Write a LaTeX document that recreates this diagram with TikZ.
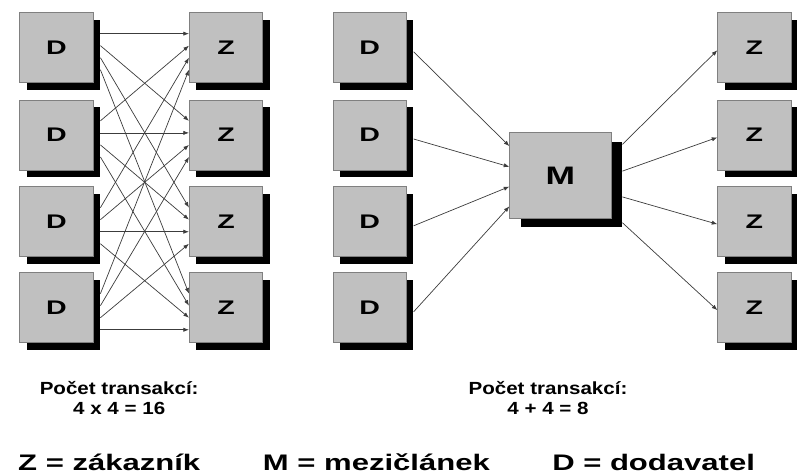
\documentclass[tikz,border=0pt]{standalone}
\usepackage{fontspec}
\setmainfont{Liberation Sans}
\usepackage{tikz}
\usetikzlibrary{arrows.meta, calc, shadows}
\definecolor{boxgray}{RGB}{192,192,192}
\definecolor{edgegray}{RGB}{128,128,128}
\definecolor{linkgray}{RGB}{60,60,60}
\newcommand{\widetxt}[2][1.4]{\scalebox{#1}[1]{#2}}
\tikzset{
  boxbase/.style={rectangle, draw=edgegray, fill=boxgray,
    inner sep=0pt, line width=0.6pt},
  party/.style={boxbase, minimum width=1.83cm, minimum height=1.75cm,
    font=\bfseries\fontsize{14}{16}\selectfont,
    drop shadow={shadow xshift=0.175cm, shadow yshift=-0.175cm, fill=black, opacity=1}},
  hub/.style={boxbase, minimum width=2.53cm, minimum height=2.13cm,
    font=\bfseries\fontsize{18}{20}\selectfont,
    drop shadow={shadow xshift=0.275cm, shadow yshift=-0.225cm, fill=black, opacity=1}},
  link/.style={-{Latex[length=4pt,width=3pt]}, draw=linkgray, line width=0.5pt},
  caption/.style={font=\bfseries\fontsize{12.5}{14.2}\selectfont, align=center},
  legend/.style={font=\bfseries\fontsize{16}{18}\selectfont, anchor=base}
}

\begin{document}
\begin{tikzpicture}
  \useasboundingbox (0,0) rectangle (19.925,11.825);

  % Suppliers and customers, four rows
  \foreach \r/\y in {1/10.63, 2/8.45, 3/6.28, 4/4.13} {
    \node[party] (dl\r) at (1.41,\y) {\widetxt[1.45]{D}};
    \node[party] (zl\r) at (5.65,\y) {\widetxt[1.45]{Z}};
    \node[party] (dr\r) at (9.24,\y) {\widetxt[1.45]{D}};
    \node[party] (zr\r) at (18.86,\y) {\widetxt[1.45]{Z}};
  }
  % Intermediary
  \node[hub] (m) at (14.01,7.44) {\widetxt{M}};

  % Direct: every D to every Z
  \foreach \i/\pin in {1/0.3, 2/0.47, 3/0.64, 4/0.81}
    \foreach \j/\pout in {1/0.3, 2/0.47, 3/0.64, 4/0.81}
      \draw[link] ($(dl\i.north east)!\pout!(dl\i.south east) + (0.175,0)$)
        -- ($(zl\j.north west)!\pin!(zl\j.south west)$);

  % Through M
  \foreach \i/\pos in {1/0.16, 2/0.4, 3/0.63, 4/0.86}
    \draw[link] ($(dr\i.east) + (0.175,-0.1)$) -- ($(m.north west)!\pos!(m.south west)$);
  \foreach \j/\pos in {1/0.14, 2/0.45, 3/0.75, 4/1.05}
    \draw[link] ($(m.north east)!\pos!(m.south east) + (0.275,0)$) -- ($(zr\j.west) + (0,-0.06)$);

  % Counts
  \node[caption] (cntl) at (2.98,1.875) {\widetxt[1.17]{Počet transakcí:}\\\widetxt[1.17]{4 x 4 = 16}};
  \node[caption] (cntr) at (13.7,1.875) {\widetxt[1.17]{Počet transakcí:}\\\widetxt[1.17]{4 + 4 = 8}};

  % Legend
  \node[legend] (lgz) at (2.73,0.075) {\widetxt[1.38]{Z = zákazník}};
  \node[legend] (lgm) at (9.41,0.075) {\widetxt[1.38]{M = mezičlánek}};
  \node[legend] (lgd) at (16.34,0.075) {\widetxt[1.38]{D = dodavatel}};
\end{tikzpicture}
\end{document}
